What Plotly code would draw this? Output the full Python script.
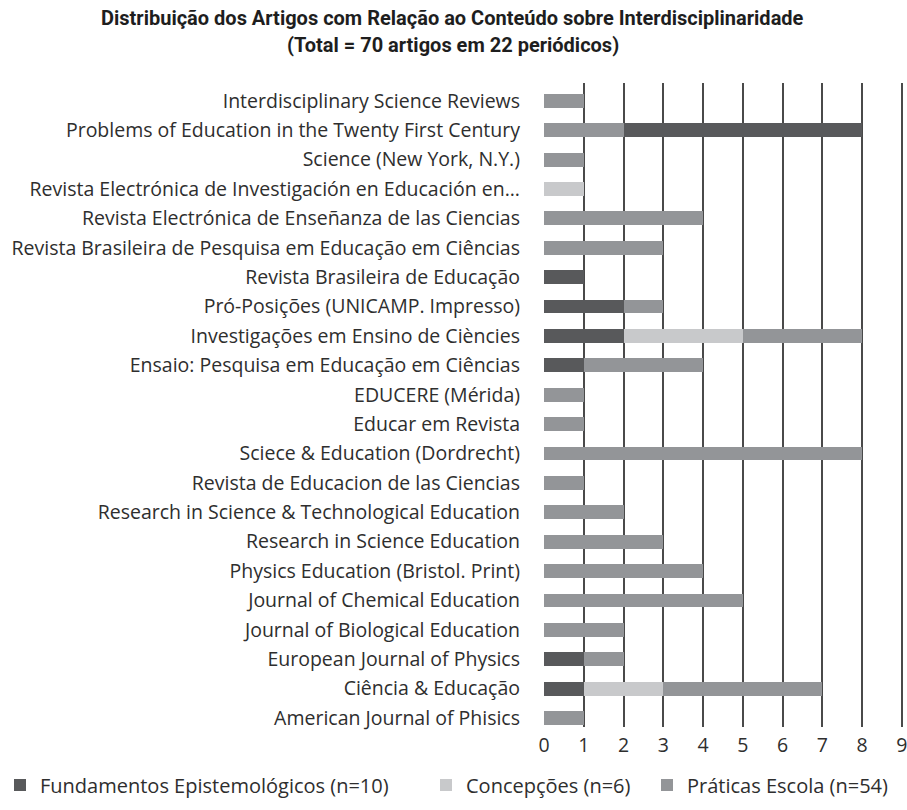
import plotly.graph_objects as go

# Categories, top to bottom as shown
journals = [
    "Interdisciplinary Science Reviews",
    "Problems of Education in the Twenty First Century",
    "Science (New York, N.Y.)",
    "Revista Electrónica de Investigación en Educación en...",
    "Revista Electrónica de Enseñanza de las Ciencias",
    "Revista Brasileira de Pesquisa em Educação em Ciências",
    "Revista Brasileira de Educação",
    "Pró-Posições (UNICAMP. Impresso)",
    "Investigações em Ensino de Ciències",
    "Ensaio: Pesquisa em Educação em Ciências",
    "EDUCERE (Mérida)",
    "Educar em Revista",
    "Sciece & Education (Dordrecht)",
    "Revista de Educacion de las Ciencias",
    "Research in Science & Technological Education",
    "Research in Science Education",
    "Physics Education (Bristol. Print)",
    "Journal of Chemical Education",
    "Journal of Biological Education",
    "European Journal of Physics",
    "Ciência & Educação",
    "American Journal of Phisics",
]

fundamentos = [0, 0, 0, 0, 0, 0, 1, 2, 2, 1, 0, 0, 0, 0, 0, 0, 0, 0, 0, 1, 1, 0]
concepcoes  = [0, 0, 0, 1, 0, 0, 0, 0, 3, 0, 0, 0, 0, 0, 0, 0, 0, 0, 0, 0, 2, 0]
praticas    = [1, 2, 1, 0, 4, 3, 0, 1, 3, 3, 1, 1, 8, 1, 2, 3, 4, 5, 2, 1, 4, 1]
# Fundamentos segment drawn after the Práticas segment (as in the original row)
fundamentos_after = [0, 6, 0, 0, 0, 0, 0, 0, 0, 0, 0, 0, 0, 0, 0, 0, 0, 0, 0, 0, 0, 0]

x_ticks = [0, 1, 2, 3, 4, 5, 6, 7, 8, 9]

series_names = ["Fundamentos Epistemológicos (n=10)", "Concepções (n=6)", "Práticas Escola (n=54)"]
title_line1 = "Distribuição dos Artigos com Relação ao Conteúdo sobre Interdisciplinaridade"
title_line2 = "(Total = 70 artigos em 22 periódicos)"

C_DARK = "#58595b"
C_LIGHT = "#c8c9cb"
C_MID = "#939598"
TXT = "#2e2e2e"
FONT = "Open Sans"
TFONT = "Roboto"

fig = go.Figure()
fig.add_trace(go.Bar(y=journals, x=fundamentos, orientation="h", name=series_names[0],
                     marker=dict(color=C_DARK, line=dict(width=0)), legend="legend",
                     legendgroup="f"))
fig.add_trace(go.Bar(y=journals, x=concepcoes, orientation="h", name=series_names[1],
                     marker=dict(color=C_LIGHT, line=dict(width=0)), legend="legend2"))
fig.add_trace(go.Bar(y=journals, x=praticas, orientation="h", name=series_names[2],
                     marker=dict(color=C_MID, line=dict(width=0)), legend="legend3"))
fig.add_trace(go.Bar(y=journals, x=fundamentos_after, orientation="h", name=series_names[0],
                     marker=dict(color=C_DARK, line=dict(width=0)), showlegend=False,
                     legendgroup="f"))

W, H = 907, 810
X_MAX = 9.03
unit = (901.7 - 544) / 9
ml, mt = 544, 83
plot_right = 544 + unit * X_MAX
plot_bottom = 727
mr = W - plot_right
mb = H - plot_bottom
plot_h = plot_bottom - mt
plot_w = plot_right - ml

def sy_to_paper(ys):
    return (plot_bottom - ys) / plot_h

def sx_to_paper(xs):
    return (xs - ml) / plot_w

legend_common = dict(orientation="h", xref="container", yref="container", yanchor="middle",
                     y=1 - 785 / H, font=dict(family=FONT, size=20, color=TXT),
                     bgcolor="rgba(0,0,0,0)", borderwidth=0, xanchor="left")

fig.update_layout(
    width=W, height=H,
    margin=dict(l=ml, r=mr, t=mt, b=mb, autoexpand=False),
    barmode="stack",
    bargap=0.53,
    plot_bgcolor="white",
    paper_bgcolor="white",
    font=dict(family=FONT, size=19.5, color=TXT),
    showlegend=True,
    legend=dict(legend_common, x=0 / W),
    legend2=dict(legend_common, x=426 / W),
    legend3=dict(legend_common, x=647 / W),
    xaxis=dict(
        range=[0, X_MAX], tickvals=x_ticks, ticktext=[str(v) for v in x_ticks],
        showgrid=True, gridcolor="#4a4a4a", gridwidth=1.6,
        zeroline=False, showline=False, ticks="",
        ticklabelstandoff=4,
        ticklabeloverflow="allow",
        tickfont=dict(family=FONT, size=19.5, color=TXT),
        fixedrange=True,
    ),
    yaxis=dict(
        categoryorder="array", categoryarray=journals,
        range=[21.306, -0.606],
        showgrid=False, zeroline=False, showline=False, ticks="",
        ticklabelstandoff=23,
        ticklabeloverflow="allow",
        tickfont=dict(family=FONT, size=19.5, color=TXT),
        fixedrange=True,
    ),
    annotations=[
        dict(text="<b>" + title_line1 + "</b>", xref="paper", yref="paper",
             x=sx_to_paper(453), y=sy_to_paper(18), xanchor="center", yanchor="middle",
             showarrow=False, font=dict(family=TFONT, size=20, color="#1e1e1e")),
        dict(text="<b>" + title_line2 + "</b>", xref="paper", yref="paper",
             x=sx_to_paper(453), y=sy_to_paper(45), xanchor="center", yanchor="middle",
             showarrow=False, font=dict(family=TFONT, size=20, color="#1e1e1e")),
    ],
)

fig.write_html(
    "out.html",
    config={"displayModeBar": False},
    post_script="document.body.style.margin='0';document.body.style.overflow='hidden';",
)
